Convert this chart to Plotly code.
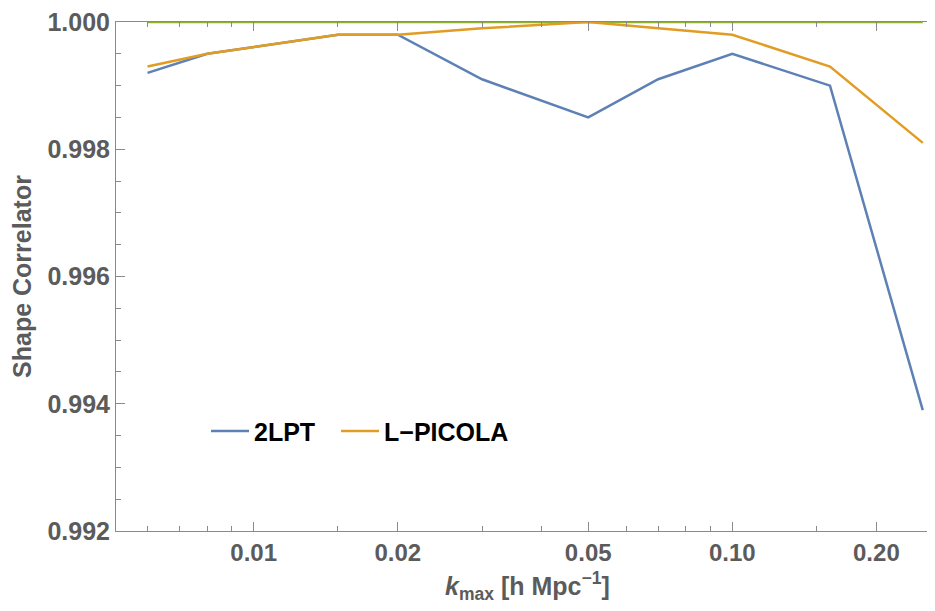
import plotly.graph_objects as go

k = [0.006, 0.008, 0.015, 0.02, 0.03, 0.05, 0.07, 0.10, 0.16, 0.25]
lpt2 = [0.9992, 0.9995, 0.9998, 0.9998, 0.9991, 0.9985, 0.9991, 0.9995, 0.9990, 0.9939]
picola = [0.9993, 0.9995, 0.9998, 0.9998, 0.9999, 1.0000, 0.9999, 0.9998, 0.9993, 0.9981]
ref = [1.0] * len(k)

xticks = [0.01, 0.02, 0.05, 0.1, 0.2]
xticktext = ["0.01", "0.02", "0.05", "0.10", "0.20"]
xminor = [0.006, 0.007, 0.008, 0.009, 0.015, 0.03, 0.04, 0.06, 0.07, 0.08, 0.09, 0.15]
yticks = [0.992, 0.994, 0.996, 0.998, 1.000]
yticktext = ["0.992", "0.994", "0.996", "0.998", "1.000"]

BLUE = "#5E81B5"
ORANGE = "#E19C24"
GREEN = "#8FB032"
AX = "#8a8a8a"
TXT = "#5b5b5b"

fig = go.Figure()
fig.add_trace(go.Scatter(x=k, y=ref, mode="lines", line=dict(color=GREEN, width=2.5), showlegend=False))
fig.add_trace(go.Scatter(x=k, y=lpt2, mode="lines", name="2LPT", line=dict(color=BLUE, width=2.5),
                         legendwidth=77))
fig.add_trace(go.Scatter(x=k, y=picola, mode="lines", name="L\u2212PICOLA", line=dict(color=ORANGE, width=2.5),
                         legendwidth=140))

font_family = "Liberation Sans, Arial, sans-serif"

fig.update_layout(
    width=919, height=595,
    margin=dict(l=108, r=0, t=12, b=72),
    paper_bgcolor="white", plot_bgcolor="white",
    font=dict(family=font_family, color=TXT),
    legend=dict(orientation="h", x=0.111, y=0.196, xanchor="left", yanchor="middle",
                bgcolor="rgba(0,0,0,0)", font=dict(size=25, color="black", family=font_family, weight="bold"),
                itemwidth=38, tracegroupgap=0),
    xaxis=dict(
        type="log", range=[-2.2877, -0.5932],
        tickmode="array", tickvals=xticks, ticktext=xticktext,
        ticks="inside", ticklen=9, tickcolor=AX, tickwidth=1,
        showline=True, linecolor=AX, linewidth=1, mirror="ticks",
        showgrid=False, zeroline=False, ticklabeloverflow="allow",
        tickfont=dict(size=24, color=TXT, family=font_family, weight="bold"),
        minor=dict(tickmode="array", tickvals=xminor, ticks="inside", ticklen=5, tickcolor=AX, showgrid=False),
    ),
    yaxis=dict(
        range=[0.992, 1.000],
        tickmode="array", tickvals=yticks, ticktext=yticktext,
        ticks="inside", ticklen=9, tickcolor=AX, tickwidth=1,
        showline=True, linecolor=AX, linewidth=1, mirror=False,
        showgrid=False, zeroline=False, ticklabeloverflow="allow",
        tickfont=dict(size=25, color=TXT, family=font_family, weight="bold"),
        minor=dict(dtick=0.0005, tick0=0.992, ticks="inside", ticklen=5, tickcolor=AX, showgrid=False),
        title=dict(text="Shape Correlator",
                   font=dict(size=25, color=TXT, family=font_family, weight="bold"), standoff=10),
    ),
    annotations=[dict(
        text="<i>k</i><sub>max</sub> [h Mpc<sup>\u22121</sup>]",
        xref="paper", yref="paper", x=0.508, y=-0.145, xanchor="center", yanchor="bottom",
        showarrow=False, borderpad=0,
        font=dict(size=25, color=TXT, family=font_family, weight="bold"),
    )],
)

fig.write_html("out.html")
